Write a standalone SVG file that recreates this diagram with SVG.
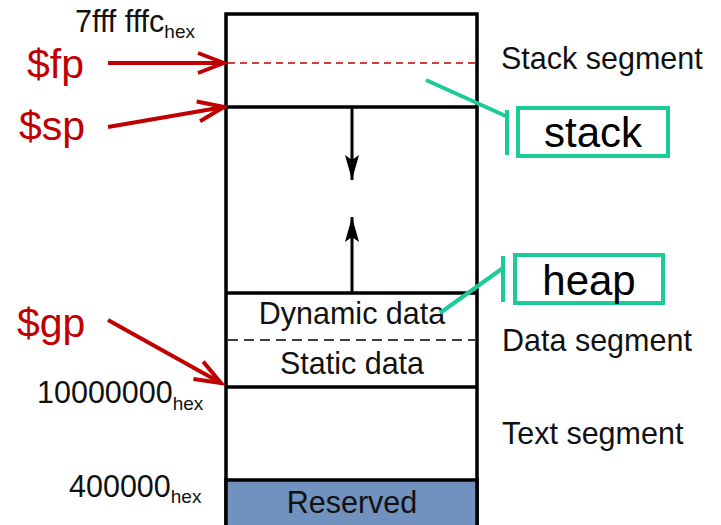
<svg xmlns="http://www.w3.org/2000/svg" width="721" height="525" viewBox="0 0 721 525">
<style>
text{font-family:"Liberation Sans",Arial,sans-serif;fill:#111}
.lbl{font-size:30.5px}
.sub{font-size:19px}
.reg{font-size:41px;fill:#c00000}
.call{font-size:42px;fill:#000}
.box{fill:#fff;stroke:#000;stroke-width:3.5}
.red{stroke:#c00000;stroke-width:4;fill:none}
.teal{stroke:#1ccb98;stroke-width:4;fill:none}
</style>
<defs>
<marker id="open" viewBox="-30 -14 34 28" refX="0" refY="0" markerWidth="34" markerHeight="28" orient="auto" markerUnits="userSpaceOnUse">
<path d="M-26,-10 L0,0 L-26,10" fill="none" stroke="#c00000" stroke-width="4"/>
</marker>
<marker id="tri" viewBox="-26 -8 28 16" refX="0" refY="0" markerWidth="28" markerHeight="16" orient="auto" markerUnits="userSpaceOnUse">
<path d="M-25,-7 L0,0 L-25,7 L-20,0 Z" fill="#000"/>
</marker>
</defs>
<g id="memory">
<rect class="box" x="226" y="14" width="251" height="520"/>
<line x1="228" y1="63" x2="475" y2="63" stroke="#c00000" stroke-width="1.5" stroke-dasharray="7,5"/>
<line x1="226" y1="107" x2="477" y2="107" stroke="#000" stroke-width="3.5"/>
<line x1="226" y1="293" x2="477" y2="293" stroke="#000" stroke-width="3.5"/>
<line x1="228" y1="340" x2="475" y2="340" stroke="#000" stroke-width="1.5" stroke-dasharray="10,6"/>
<line x1="226" y1="387" x2="477" y2="387" stroke="#000" stroke-width="3.5"/>
<rect x="226" y="480" width="251" height="50" fill="#7191be" stroke="#000" stroke-width="3.5"/>
<text class="lbl" x="352" y="324" text-anchor="middle">Dynamic data</text>
<text class="lbl" x="352" y="374" text-anchor="middle">Static data</text>
<text class="lbl" x="352" y="513" text-anchor="middle">Reserved</text>
</g>
<g id="growth">
<line x1="352" y1="108" x2="352" y2="180" stroke="#000" stroke-width="3" marker-end="url(#tri)"/>
<line x1="352" y1="292" x2="352" y2="217" stroke="#000" stroke-width="3" marker-end="url(#tri)"/>
</g>
<g id="addresses">
<text class="lbl" x="75" y="32">7fff fffc<tspan class="sub" dy="6">hex</tspan></text>
<text class="lbl" x="37" y="403">10000000<tspan class="sub" dy="7">hex</tspan></text>
<text class="lbl" x="69" y="497">400000<tspan class="sub" dy="6">hex</tspan></text>
</g>
<g id="segments">
<text class="lbl" x="501" y="69">Stack segment</text>
<text class="lbl" x="502" y="351">Data segment</text>
<text class="lbl" x="502" y="444">Text segment</text>
</g>
<g id="registers">
<text class="reg" x="27" y="78">$fp</text>
<text class="reg" x="19" y="140">$sp</text>
<text class="reg" x="17" y="337">$gp</text>
</g>
<g id="connectors">
<line class="red" x1="108" y1="63" x2="224" y2="63" marker-end="url(#open)"/>
<line class="red" x1="108" y1="127" x2="224" y2="107" marker-end="url(#open)"/>
<line class="red" x1="108" y1="320" x2="221" y2="383" marker-end="url(#open)"/>
<polyline class="teal" points="426,80 508,117"/>
<line class="teal" x1="507" y1="110" x2="507" y2="155"/>
<polyline class="teal" points="440,313 503,268"/>
<line class="teal" x1="503" y1="256" x2="503" y2="302"/>
</g>
<g id="stack-callout">
<rect class="teal" x="518" y="108" width="150" height="48"/>
<text class="call" x="593" y="147" text-anchor="middle">stack</text>
</g>
<g id="heap-callout">
<rect class="teal" x="515" y="255" width="148" height="48"/>
<text class="call" x="589" y="295" text-anchor="middle">heap</text>
</g>
</svg>
